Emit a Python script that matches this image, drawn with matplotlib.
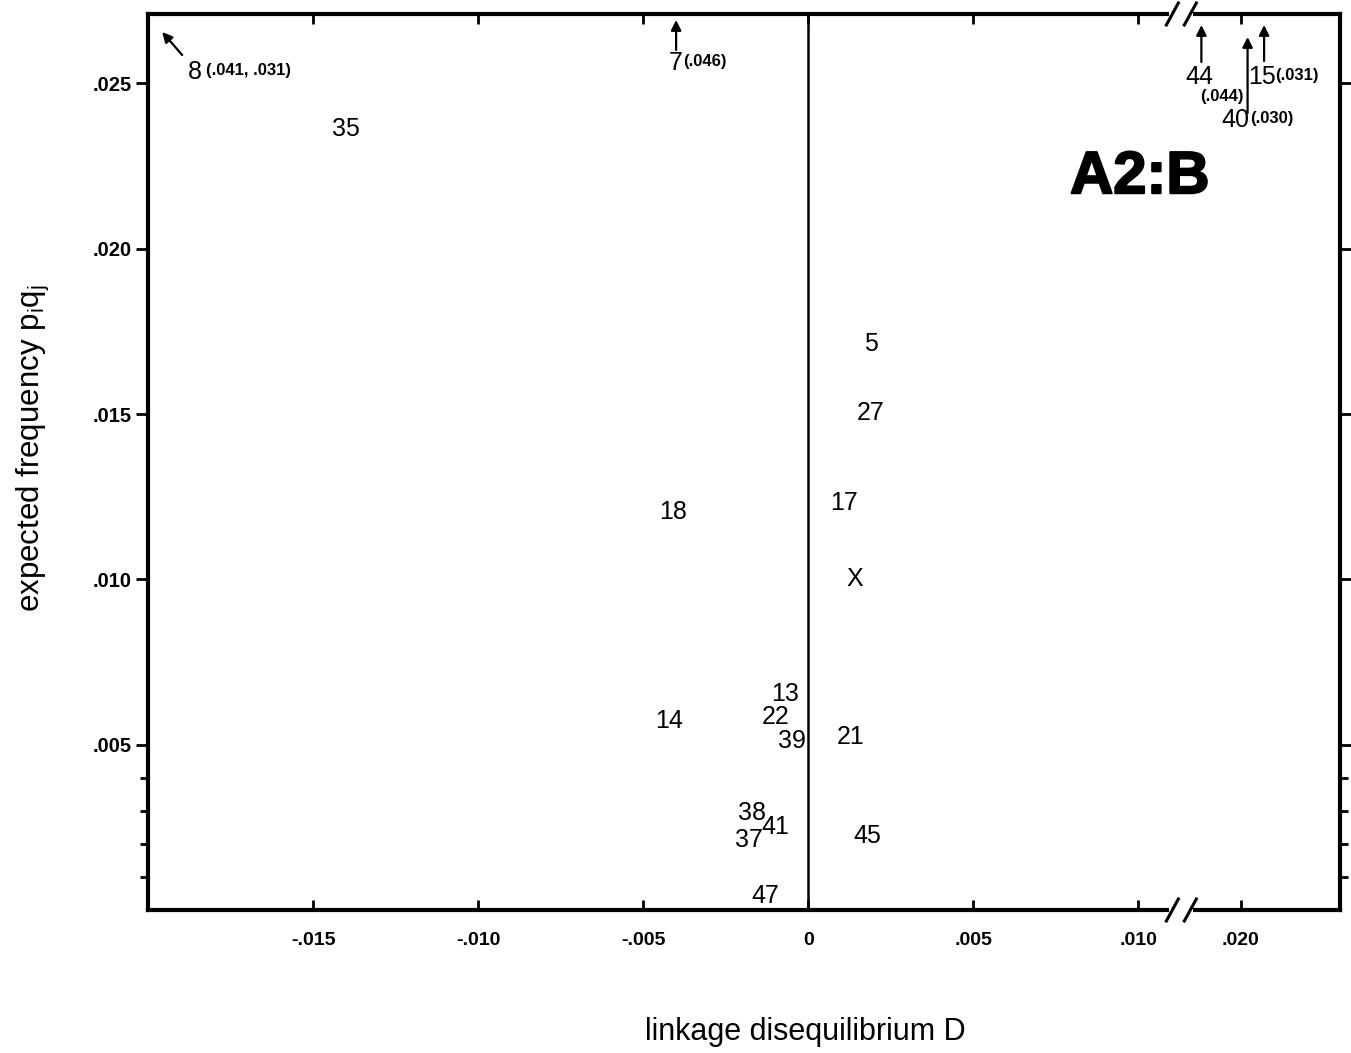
import numpy as np
import matplotlib
matplotlib.use("Agg")
import matplotlib.pyplot as plt
import matplotlib.patheffects as pe
from matplotlib.ticker import FixedLocator, FuncFormatter, NullFormatter
from matplotlib.lines import Line2D
from matplotlib.patches import Rectangle

plt.rcParams["font.family"] = ["Liberation Sans", "DejaVu Sans"]
plt.rcParams["mathtext.fontset"] = "custom"
plt.rcParams["mathtext.rm"] = "Liberation Sans"
plt.rcParams["mathtext.it"] = "Liberation Sans"
plt.rcParams["axes.unicode_minus"] = False

# ---- data: B alleles in haplotypes with A2 ----
labels = ["35", "5", "27", "17", "18", "X", "13", "22", "14", "39", "21",
          "38", "41", "37", "45", "47"]
D = [-0.0140, 0.0019, 0.0019, 0.0011, -0.0041, 0.0014, -0.0007, -0.0010,
     -0.0042, -0.0005, 0.0013, -0.0017, -0.0010, -0.0018, 0.0018, -0.0013]
pq = [0.0237, 0.0172, 0.0151, 0.0124, 0.0121, 0.0101, 0.0066, 0.0059,
      0.0058, 0.0052, 0.0053, 0.0030, 0.0026, 0.0022, 0.0023, 0.0005]

# alleles whose expected frequency lies above the plotted range
off_labels = ["8", "7", "44", "40", "15"]
off_D = [-0.041, -0.0040, 0.0188, 0.0202, 0.0207]
off_pq = [0.031, 0.046, 0.044, 0.030, 0.031]
off_show_D = [True, False, False, False, False]

x_ticks = [-0.015, -0.010, -0.005, 0.0, 0.005, 0.010, 0.020]
y_major = [0.005, 0.010, 0.015, 0.020, 0.025]
y_minor = [0.001, 0.002, 0.003, 0.004]

# ---- broken D axis: compress the empty stretch between the two parts ----
X_LO, X_HI = -0.0200, 0.0230
Y_LO, Y_HI = 0.0, 0.0271
GAP_A, GAP_B = 0.0113, 0.0182
SQUEEZE = 0.002
GAP_W = GAP_B - GAP_A


def fwd(x):
    x = np.asarray(x, float)
    return np.where(x <= GAP_A, x,
                    np.where(x >= GAP_B, x - GAP_W * (1 - SQUEEZE),
                             GAP_A + (x - GAP_A) * SQUEEZE))


def inv(u):
    u = np.asarray(u, float)
    ub = GAP_A + GAP_W * SQUEEZE
    return np.where(u <= GAP_A, u,
                    np.where(u >= ub, u + GAP_W * (1 - SQUEEZE),
                             GAP_A + (u - GAP_A) / SQUEEZE))


def fmt_val(v):
    s = f"{abs(v):.3f}".lstrip("0")
    if v == 0:
        return "0"
    return ("-" + s) if v < 0 else s


W, H = 1351, 1053
fig = plt.figure(figsize=(W / 100, H / 100), dpi=100)
ax = fig.add_axes([148 / W, (H - 910) / H, 1192 / W, 896 / H])
ax.set_xscale("function", functions=(fwd, inv))
ax.set_xlim(X_LO, X_HI)
ax.set_ylim(Y_LO, Y_HI)

PX = 0.72  # points per pixel at 100 dpi

# frame
for s in ax.spines.values():
    s.set_linewidth(3.0)

ax.xaxis.set_major_locator(FixedLocator(x_ticks))
ax.xaxis.set_major_formatter(FuncFormatter(lambda v, p: fmt_val(v)))
ax.yaxis.set_major_locator(FixedLocator(y_major))
ax.yaxis.set_minor_locator(FixedLocator(y_minor))
ax.yaxis.set_major_formatter(FuncFormatter(lambda v, p: fmt_val(v)))
ax.yaxis.set_minor_formatter(NullFormatter())

ax.tick_params(axis="x", which="major", direction="in", top=True, bottom=True,
               length=7, width=2, pad=16, labelsize=14)
ax.tick_params(axis="y", which="major", direction="out", left=True, right=True,
               length=8.5, width=2, pad=3, labelsize=14.5)
ax.tick_params(axis="y", which="minor", direction="out", left=True, right=True,
               length=5.5, width=2)
for lab in ax.get_xticklabels() + ax.get_yticklabels():
    lab.set_fontweight("bold")

# D = 0 reference line
ax.axvline(0, color="black", lw=1.8, zorder=1)

# in-range alleles, written at their coordinates
label_font = ["Liberation Sans Narrow", "Liberation Sans", "DejaVu Sans"]
for lab, x, y in zip(labels, D, pq):
    ax.text(x, y, lab, ha="center", va="center_baseline", fontsize=18,
            family=label_font)

# off-scale alleles: arrow pointing out of the frame plus value note
# (head drop below top, tail offset, name offset, note offset, note alignment) in pixels
off_layout = {
    "8": (18, (20, -23), (33, -37), (44, -37), "left"),
    "7": (6, (0, -30), (0, -40), (7, -40), "left"),
    "44": (11, (0, -37), (-2, -50), (21, -70), "center"),
    "40": (23, (0, -76), (-12, -80), (24, -80), "center"),
    "15": (11, (0, -36), (-2, -49), (11, -49), "left"),
}
px_y = (Y_HI - Y_LO) / 896.0
for lab, x, y, showD in zip(off_labels, off_D, off_pq, off_show_D):
    drop, tail, name_off, note_off, note_ha = off_layout[lab]
    hx = float(np.clip(x, X_LO + 0.00043, X_HI))
    hy = min(y, Y_HI) - drop * px_y
    ax.annotate("", xy=(hx, hy), xytext=(tail[0] * PX, tail[1] * PX),
                textcoords="offset points",
                arrowprops=dict(arrowstyle="-|>", color="black", lw=1.6,
                                mutation_scale=15, shrinkA=0, shrinkB=0))
    ax.annotate(lab, xy=(hx, hy), xytext=(name_off[0] * PX, name_off[1] * PX),
                textcoords="offset points", ha="center", va="center_baseline",
                fontsize=18, family=label_font)
    note = f"({fmt_val(abs(x))}, {fmt_val(y)})" if showD else f"({fmt_val(y)})"
    ax.annotate(note, xy=(hx, hy), xytext=(note_off[0] * PX, note_off[1] * PX),
                textcoords="offset points", ha=note_ha, va="center_baseline",
                fontsize=12, fontweight="bold")

# panel title
ax.text(0.832, 0.800, "A2:B", transform=ax.transAxes, ha="center",
        va="baseline", fontsize=43, fontweight="bold",
        path_effects=[pe.withStroke(linewidth=1.5, foreground="black")])

# axis labels
ax.set_xlabel("linkage disequilibrium D", fontsize=22)
ax.xaxis.set_label_coords((805 - 148) / 1192, (910 - 1032) / 896)
ax.xaxis.label.set_va("center")
ax.set_ylabel(r"expected frequency $\mathregular{p_iq_j}$", fontsize=22.5)
ax.yaxis.set_label_coords((33 - 148) / 1192, (910 - 448) / 896)
ax.yaxis.label.set_va("center")

# break marks on the top and bottom of the frame
xb_disp = ax.transData.transform((float(inv(GAP_A + GAP_W * SQUEEZE / 2)), 0.0))[0]
xb = ax.transAxes.inverted().transform((xb_disp, 0))[0]
axw, axh = 1192.0, 896.0
for yb in (0.0, 1.0):
    ax.add_patch(Rectangle((xb - 12 / axw, yb - 5 / axh), 24 / axw, 10 / axh,
                           transform=ax.transAxes, facecolor="white",
                           edgecolor="none", clip_on=False, zorder=5))
    for c in (-9, 9):
        ax.add_line(Line2D([xb + (c - 6) / axw, xb + (c + 6) / axw],
                           [yb - 11 / axh, yb + 11 / axh],
                           transform=ax.transAxes, color="black", lw=2.2,
                           clip_on=False, zorder=6))

fig.savefig("out.png", dpi=100, facecolor="white")
